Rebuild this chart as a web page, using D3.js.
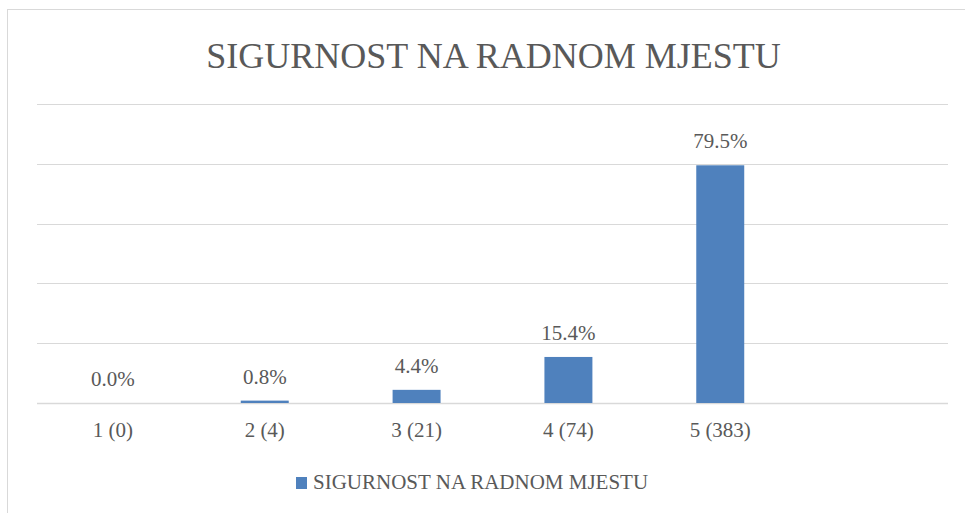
<!DOCTYPE html>
<html>
<head>
<meta charset="utf-8">
<script src="https://cdn.jsdelivr.net/npm/d3@7"></script>
<style>
  body { margin: 0; background: #fff; }
</style>
</head>
<body>
<div class="main"></div>
<script>
const width = 965;
const height = 513;
const margin = ({top: 104, right: 17, bottom: 110, left: 37});
const color = '#4F81BD';
const textColor = '#595959';
const gridColor = '#D9D9D9';
const serif = "'Liberation Serif', 'DejaVu Serif', 'Noto Serif', serif";

const title = 'SIGURNOST NA RADNOM MJESTU';
const categories = ['1 (0)', '2 (4)', '3 (21)', '4 (74)', '5 (383)', ''];
const values = [0.0, 0.8, 4.4, 15.4, 79.5];
const yTicks = [0, 20, 40, 60, 80, 100];

const data = values.map((v, i) => ({cat: categories[i], value: v}));

const svg = d3.select('.main')
  .append('svg')
  .attr('width', width)
  .attr('height', height);

// chart frame (right/bottom edges fall outside the picture)
svg.append('rect')
  .attr('x', 7.5).attr('y', 9.5)
  .attr('width', width + 10).attr('height', height + 10)
  .attr('fill', 'none')
  .attr('stroke', gridColor);

const x = d3.scaleBand()
  .domain(categories)
  .range([margin.left, width - margin.right])
  .paddingInner(0.684)
  .paddingOuter(0.342);

const y = d3.scaleLinear()
  .domain([0, 100])
  .range([height - margin.bottom, margin.top]);

// gridlines
svg.append('g')
  .selectAll('line')
  .data(yTicks)
  .enter()
  .append('line')
  .attr('x1', margin.left)
  .attr('x2', width - margin.right)
  .attr('y1', d => Math.round(y(d)) + 0.5)
  .attr('y2', d => Math.round(y(d)) + 0.5)
  .attr('stroke', gridColor)
  .attr('stroke-width', d => d === 0 ? 1.5 : 1.2);

// bars
svg.append('g')
  .selectAll('rect')
  .data(data)
  .enter()
  .append('rect')
  .attr('x', d => x(d.cat))
  .attr('width', x.bandwidth())
  .attr('y', d => y(d.value))
  .attr('height', d => y(0) - y(d.value))
  .style('fill', color);

// value labels
svg.append('g')
  .attr('text-anchor', 'middle')
  .selectAll('text')
  .data(data)
  .enter()
  .append('text')
  .attr('font-family', serif)
  .attr('font-size', 21)
  .attr('fill', textColor)
  .attr('x', d => x(d.cat) + x.bandwidth() / 2)
  .attr('y', d => y(d.value) - 17)
  .text(d => d.value.toFixed(1) + '%');

// x axis labels
const xAxis = svg.append('g')
  .attr('transform', `translate(0, ${height - margin.bottom})`)
  .call(d3.axisBottom(x).tickSize(0).tickPadding(30))
  .attr('font-family', serif)
  .attr('font-size', 21);
xAxis.select('.domain').remove();
xAxis.selectAll('text')
  .attr('fill', textColor)
  .attr('dy', '0.2em');

// title
svg.append('text')
  .attr('x', (margin.left + width - margin.right) / 2 + 1)
  .attr('y', 68)
  .attr('text-anchor', 'middle')
  .attr('font-family', serif)
  .attr('font-size', 36)
  .attr('fill', textColor)
  .text(title);

// legend
const legend = svg.append('g').attr('transform', 'translate(296, 477)');
legend.append('rect')
  .attr('width', 11).attr('height', 12)
  .attr('fill', color);
legend.append('text')
  .attr('x', 17)
  .attr('y', 12)
  .attr('font-family', serif)
  .attr('font-size', 21)
  .attr('fill', textColor)
  .text(title);
</script>
</body>
</html>
